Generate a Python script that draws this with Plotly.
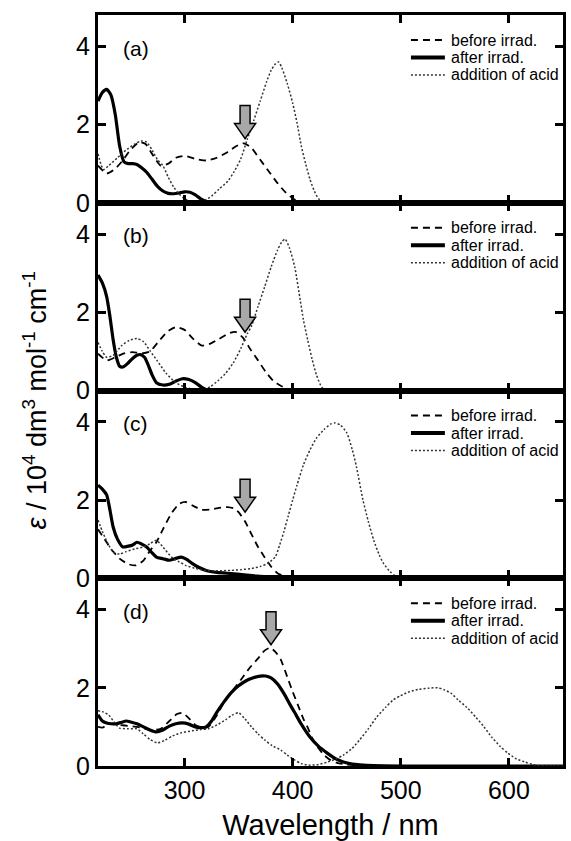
import plotly.graph_objects as go
from plotly.subplots import make_subplots

FONT = "Liberation Sans, Arial, Helvetica, sans-serif"

# ---- series names and axis ticks ----
SERIES_NAMES = ["before irrad.", "after irrad.", "addition of acid"]
PANEL_TAGS = ["(a)", "(b)", "(c)", "(d)"]
X_TICKS = [300, 400, 500, 600]
Y_TICKS = [0, 2, 4]

# ---- panel (a) ----
WL_BEFORE_A = [220, 228, 235, 242, 250, 258, 264, 270, 278, 285, 292, 300, 310, 320, 330, 340, 348, 355,
               362, 370, 378, 386, 394, 402, 410, 420, 650]
EPS_BEFORE_A = [0.95, 0.75, 0.85, 1.05, 1.35, 1.55, 1.5, 1.25, 0.95, 1.0, 1.15, 1.2, 1.12, 1.08, 1.15, 1.3,
                1.45, 1.52, 1.4, 1.1, 0.8, 0.5, 0.25, 0.08, 0.02, 0, 0]
WL_AFTER_A = [220, 224, 228, 232, 236, 240, 244, 248, 252, 256, 260, 265, 270, 275, 280, 285, 290, 295,
              300, 305, 310, 315, 320, 325, 330, 650]
EPS_AFTER_A = [2.6, 2.82, 2.9, 2.75, 2.25, 1.45, 1.05, 1.0, 1.0, 0.98, 0.9, 0.78, 0.6, 0.42, 0.3, 0.24,
               0.23, 0.25, 0.28, 0.27, 0.2, 0.1, 0.03, 0.0, 0, 0]
WL_ACID_A = [220, 225, 230, 238, 246, 254, 260, 265, 270, 275, 280, 285, 290, 295, 300, 306, 312, 318,
             325, 332, 340, 346, 352, 358, 364, 370, 376, 380, 384, 387, 390, 395, 400, 404, 408, 412,
             416, 420, 424, 428, 435, 650]
EPS_ACID_A = [1.25, 0.85, 0.95, 1.15, 1.35, 1.5, 1.58, 1.55, 1.35, 1.1, 0.95, 0.65, 0.4, 0.22, 0.1, 0.03,
              0.0, 0.05, 0.17, 0.35, 0.55, 0.8, 1.12, 1.62, 2.1, 2.6, 3.1, 3.38, 3.55, 3.6, 3.45, 3.05,
              2.55, 2.05, 1.45, 1.0, 0.6, 0.3, 0.1, 0.02, 0, 0]

# ---- panel (b) ----
WL_BEFORE_B = [220, 228, 236, 244, 252, 260, 268, 276, 284, 292, 300, 308, 316, 324, 332, 340, 347, 354,
               361, 368, 375, 382, 389, 396, 404, 650]
EPS_BEFORE_B = [0.94, 0.77, 0.85, 0.95, 0.98, 0.95, 1.0, 1.25, 1.5, 1.62, 1.55, 1.32, 1.15, 1.2, 1.32,
                1.45, 1.5, 1.35, 1.05, 0.77, 0.48, 0.25, 0.12, 0.04, 0, 0]
WL_AFTER_B = [220, 224, 228, 231, 234, 237, 240, 243, 247, 252, 256, 259, 263, 266, 270, 274, 280, 286,
              292, 298, 304, 310, 316, 322, 330, 650]
EPS_AFTER_B = [2.95, 2.75, 2.4, 1.9, 1.3, 0.85, 0.62, 0.6, 0.68, 0.82, 0.9, 0.92, 0.85, 0.68, 0.4, 0.2,
               0.14, 0.16, 0.24, 0.3, 0.28, 0.2, 0.08, 0.01, 0, 0]
WL_ACID_B = [220, 224, 228, 234, 242, 249, 256, 262, 268, 275, 283, 292, 301, 310, 316, 324, 331, 338,
             345, 352, 358, 362, 368, 374, 380, 386, 390, 393, 397, 402, 407, 410, 414, 418, 422, 427,
             432, 650]
EPS_ACID_B = [1.23, 1.0, 0.85, 0.9, 1.15, 1.28, 1.33, 1.25, 1.02, 0.75, 0.44, 0.2, 0.08, 0.02, 0.0, 0.1,
              0.25, 0.44, 0.7, 1.07, 1.45, 1.65, 2.15, 2.64, 3.15, 3.59, 3.8, 3.87, 3.65, 3.15, 2.31, 1.8,
              1.28, 0.8, 0.4, 0.08, 0, 0]

# ---- panel (c) ----
WL_BEFORE_C = [220, 226, 232, 240, 248, 255, 262, 268, 274, 280, 288, 295, 301, 308, 316, 324, 332, 340,
               346, 350, 356, 362, 368, 374, 380, 386, 392, 400, 650]
EPS_BEFORE_C = [1.25, 1.0, 0.75, 0.5, 0.36, 0.33, 0.45, 0.7, 0.92, 1.25, 1.66, 1.9, 1.95, 1.85, 1.75,
                1.76, 1.8, 1.82, 1.78, 1.69, 1.45, 1.12, 0.8, 0.54, 0.3, 0.13, 0.05, 0, 0]
WL_AFTER_C = [220, 224, 228, 231, 234, 238, 243, 248, 252, 256, 260, 265, 270, 274, 280, 286, 291, 297,
              302, 307, 313, 320, 330, 343, 355, 365, 374, 385, 395, 650]
EPS_AFTER_C = [2.38, 2.28, 2.13, 1.75, 1.31, 1.0, 0.8, 0.82, 0.85, 0.92, 0.88, 0.8, 0.65, 0.54, 0.5,
               0.46, 0.5, 0.54, 0.48, 0.38, 0.28, 0.2, 0.15, 0.12, 0.09, 0.06, 0.04, 0.02, 0.0, 0]
WL_ACID_C = [220, 224, 228, 234, 240, 246, 254, 262, 268, 274, 280, 288, 295, 301, 310, 320, 330, 343,
             352, 362, 370, 377, 384, 388, 392, 396, 400, 404, 410, 416, 422, 429, 435, 439, 444, 450,
             455, 459, 465, 470, 475, 480, 484, 490, 495, 500, 650]
EPS_ACID_C = [1.49, 1.2, 0.95, 0.67, 0.62, 0.68, 0.75, 0.8, 0.88, 0.97, 0.8, 0.54, 0.42, 0.33, 0.25, 0.2,
              0.19, 0.2, 0.22, 0.25, 0.3, 0.38, 0.55, 0.85, 1.2, 1.6, 2.0, 2.38, 2.9, 3.28, 3.58, 3.8,
              3.94, 3.97, 3.92, 3.72, 3.3, 2.85, 2.0, 1.45, 0.97, 0.6, 0.38, 0.17, 0.06, 0, 0]

# ---- panel (d) ----
WL_BEFORE_D = [220, 224, 230, 240, 250, 260, 270, 278, 286, 293, 298, 303, 310, 316, 322, 330, 338, 345,
               352, 360, 368, 374, 379, 384, 389, 395, 400, 405, 410, 414, 418, 423, 429, 435, 441, 447,
               460, 470, 650]
EPS_BEFORE_D = [1.0, 0.98, 1.08, 1.05, 1.02, 0.98, 0.92, 0.95, 1.15, 1.33, 1.36, 1.25, 1.05, 0.98, 1.0,
                1.3, 1.7, 1.95, 2.2, 2.5, 2.75, 2.95, 3.02, 2.92, 2.72, 2.28, 1.9, 1.55, 1.2, 0.98, 0.72,
                0.49, 0.28, 0.15, 0.08, 0.05, 0.01, 0, 0]
WL_AFTER_D = [220, 224, 228, 232, 237, 242, 246, 251, 256, 262, 268, 274, 280, 286, 292, 298, 304, 310,
              316, 320, 325, 330, 336, 343, 350, 357, 363, 370, 375, 380, 386, 392, 398, 402, 408, 416,
              424, 432, 440, 447, 455, 462, 475, 500, 650]
EPS_AFTER_D = [1.31, 1.15, 1.1, 1.08, 1.08, 1.12, 1.15, 1.12, 1.08, 1.0, 0.92, 0.87, 0.92, 1.02, 1.08,
               1.1, 1.07, 1.0, 0.98, 1.0, 1.15, 1.38, 1.62, 1.87, 2.05, 2.18, 2.25, 2.3, 2.3, 2.25, 2.1,
               1.85, 1.55, 1.36, 1.07, 0.74, 0.5, 0.33, 0.18, 0.1, 0.05, 0.03, 0.01, 0, 0]
WL_ACID_D = [220, 225, 230, 235, 240, 248, 256, 262, 268, 275, 282, 289, 297, 307, 315, 322, 330, 338,
             344, 350, 356, 362, 368, 374, 381, 389, 395, 402, 408, 416, 424, 432, 440, 447, 455, 462,
             470, 478, 486, 493, 500, 508, 516, 526, 534, 540, 547, 553, 561, 569, 577, 584, 592, 599,
             607, 615, 622, 628, 640, 650]
EPS_ACID_D = [1.41, 1.38, 1.3, 1.12, 0.97, 0.95, 0.95, 0.82, 0.68, 0.59, 0.66, 0.77, 0.85, 0.9, 0.93,
              0.95, 1.05, 1.18, 1.3, 1.36, 1.2, 1.0, 0.82, 0.67, 0.52, 0.41, 0.28, 0.15, 0.06, 0.02, 0.04,
              0.1, 0.18, 0.28, 0.45, 0.67, 0.95, 1.26, 1.5, 1.69, 1.8, 1.9, 1.96, 1.99, 2.0, 1.95, 1.85,
              1.69, 1.5, 1.26, 1.0, 0.74, 0.5, 0.33, 0.18, 0.1, 0.04, 0.01, 0, 0]

# ---- irradiation-direction arrows: wavelength and epsilon at the arrow tip ----
ARROW_WL = [356, 356, 356, 380]
ARROW_EPS = [1.64, 1.49, 1.69, 3.1]

PANELS = [
    [(WL_BEFORE_A, EPS_BEFORE_A), (WL_AFTER_A, EPS_AFTER_A), (WL_ACID_A, EPS_ACID_A)],
    [(WL_BEFORE_B, EPS_BEFORE_B), (WL_AFTER_B, EPS_AFTER_B), (WL_ACID_B, EPS_ACID_B)],
    [(WL_BEFORE_C, EPS_BEFORE_C), (WL_AFTER_C, EPS_AFTER_C), (WL_ACID_C, EPS_ACID_C)],
    [(WL_BEFORE_D, EPS_BEFORE_D), (WL_AFTER_D, EPS_AFTER_D), (WL_ACID_D, EPS_ACID_D)],
]

LINE_STYLES = {
    "before irrad.": dict(color="black", width=1.8, dash="7px,5px"),
    "after irrad.": dict(color="black", width=3.2, dash="solid"),
    "addition of acid": dict(color="#333333", width=1.5, dash="2px,2px"),
}

fig = make_subplots(rows=4, cols=1, shared_xaxes=True, vertical_spacing=0)

for row, panel in enumerate(PANELS, start=1):
    for name, (wl, eps) in zip(SERIES_NAMES, panel):
        fig.add_trace(
            go.Scatter(x=wl, y=eps, mode="lines", name=name, showlegend=False,
                       line=dict(**LINE_STYLES[name], shape="spline", smoothing=0.6)),
            row=row, col=1)

axis_common = dict(showline=True, linewidth=3, linecolor="black", mirror="ticks",
                   ticks="inside", ticklen=8, tickwidth=2.5, tickcolor="black",
                   showgrid=False, zeroline=False,
                   tickfont=dict(family=FONT, size=25, color="black"))

for row in range(1, 5):
    fig.update_xaxes(range=[220, 650], tickvals=X_TICKS, row=row, col=1, **axis_common)
    fig.update_yaxes(range=[0, 4.8], tickvals=Y_TICKS, row=row, col=1, **axis_common)

fig.update_xaxes(ticklabelstandoff=0, row=4, col=1,
                 title=dict(text="Wavelength / nm", standoff=12,
                            font=dict(family=FONT, size=29, color="black")))

shapes = []
annotations = []
for i in range(4):
    sfx = "" if i == 0 else str(i + 1)
    xd, yd = f"x{sfx} domain", f"y{sfx} domain"
    # panel tag
    annotations.append(dict(text=PANEL_TAGS[i], xref=xd, yref=yd, x=0.05, y=0.824,
                            xanchor="left", yanchor="middle", showarrow=False,
                            font=dict(family=FONT, size=21, color="black")))
    # key for the three spectra
    for k, name in enumerate(SERIES_NAMES):
        ky = 1 - (25 + 17.5 * k) / 187.75
        st = LINE_STYLES[name]
        shapes.append(dict(type="line", xref=xd, yref=yd, x0=0.673, x1=0.746, y0=ky, y1=ky,
                           line=dict(color=st["color"], width=st["width"] + (0.8 if k == 1 else 0),
                                     dash=st["dash"])))
        annotations.append(dict(text=name, xref=xd, yref=yd, x=0.754, y=ky,
                                xanchor="left", yanchor="middle", showarrow=False,
                                font=dict(family=FONT, size=16, color="black")))
    # grey arrow pointing down to the spectral change
    shapes.append(dict(type="path", xref=f"x{sfx}", yref=f"y{sfx}",
                       xsizemode="pixel", ysizemode="pixel",
                       xanchor=ARROW_WL[i], yanchor=ARROW_EPS[i],
                       path="M0,0 L-10.5,15 L-5,15 L-5,33 L5,33 L5,15 L10.5,15 Z",
                       fillcolor="#a8a8a8", line=dict(color="black", width=1.5)))

annotations.append(dict(
    text="<i>ε</i> / 10<sup>4</sup> dm<sup>3</sup> mol<sup>-1</sup> cm<sup>-1</sup>",
    xref="paper", yref="paper", x=-0.135, y=0.487, textangle=-90,
    xanchor="center", yanchor="middle", showarrow=False,
    font=dict(family=FONT, size=27, color="black")))

fig.update_layout(
    width=571, height=841,
    margin=dict(l=98, r=5, t=15, b=75),
    paper_bgcolor="white", plot_bgcolor="white",
    font=dict(family=FONT, color="black"),
    showlegend=False,
    shapes=shapes, annotations=annotations,
)

fig.write_html("out.html")
